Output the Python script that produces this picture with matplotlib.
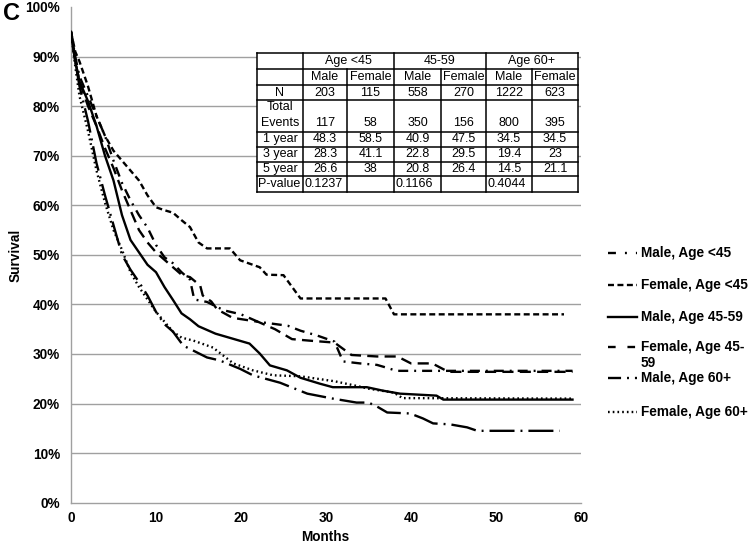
"""
Kaplan-Meier style survival curves by sex and age group, with summary table.
"""
import matplotlib
matplotlib.use("Agg")
import matplotlib.pyplot as plt
from matplotlib.lines import Line2D

plt.rcParams["font.family"] = ["Liberation Sans", "DejaVu Sans"]
plt.rcParams["lines.scale_dashes"] = False

# ── Data (survival %) ────────────────────────────────────────────────────────
m_lt45_months = [0, 0.5, 1, 2, 3, 4, 5, 6, 7, 8, 9, 10, 11, 12, 13, 14, 14.5,
                 16, 18, 20, 22, 25.5, 27, 29, 31, 32, 34, 36, 37, 38.3, 59]
m_lt45_surv = [95, 90, 86, 82, 78, 74, 69, 64.5, 61, 58, 55.5, 52, 49.5, 48.3,
               46.5, 45, 41, 40.5, 38.8, 38, 36.5, 35.7, 34.7, 33.7, 32.5, 28.5,
               28.1, 27.8, 27.3, 26.6, 26.6]

f_lt45_months = [0, 0.5, 1, 2, 3, 4, 5, 6, 7, 8, 9, 10, 11, 12, 13, 14, 15, 16,
                 18.7, 19.9, 22.2, 23, 25, 27, 37, 38, 58]
f_lt45_surv = [95, 91, 89, 84, 78, 74, 71, 69, 67, 65, 62, 59.6, 59, 58.5, 57,
               55.6, 52.5, 51.3, 51.3, 48.9, 47.5, 46, 45.9, 41.2, 41.2, 38, 38]

m_4559_months = [0, 0.5, 1, 2, 3, 4, 5, 6, 7, 8, 9, 10, 11, 12, 13, 14, 15, 17,
                 19, 21, 22.2, 23.4, 25.4, 27, 29.3, 30.8, 34.8, 36.7, 38.7, 43,
                 43.8, 59]
m_4559_surv = [95, 89, 85, 81, 76, 70, 65, 58, 53, 50.5, 48, 46.5, 43.5, 40.9,
               38.2, 37, 35.6, 34.1, 33.1, 32.1, 30.1, 27.7, 26.7, 25.2, 24,
               23.3, 23.3, 22.6, 22, 21.6, 20.8, 20.8]

f_4559_months = [0, 0.5, 1, 2, 3, 4, 5, 6, 7, 8, 9, 10, 11, 12, 13, 14, 15.2,
                 15.5, 16.5, 17.2, 19, 22, 24, 26, 28, 31, 33, 36, 38.4, 40,
                 42.5, 44.4, 59]
f_4559_surv = [95, 89, 85, 80, 76, 71.5, 67.5, 63, 59, 55, 52.5, 50.5, 49, 47.5,
               46, 45.5, 43.8, 41.8, 40.6, 39, 37.3, 36.5, 35, 33, 32.7, 32.3,
               29.8, 29.5, 29.5, 28.1, 28.1, 26.4, 26.4]

m_60_months = [0, 0.5, 1, 2, 3, 4, 5, 6, 7, 8, 9, 10, 11, 12, 13.2, 16, 17.5,
               19.9, 21.4, 24.6, 27.8, 30.8, 33.6, 35, 36, 37.2, 39.9, 41.4,
               42.6, 44.6, 46.6, 47.8, 57.5]
m_60_surv = [95, 89, 84, 77, 68.5, 62, 56, 50, 47, 44.5, 41.8, 38.5, 36, 34.5,
             31.7, 29.3, 28.7, 27, 25.7, 24.2, 22, 21, 20.2, 20.2, 19.4, 18.2,
             18, 17, 16, 15.8, 15.2, 14.5, 14.5]

f_60_months = [0, 0.5, 1, 2, 3, 4, 5, 6, 7, 8, 9, 10, 11, 12, 13, 14.4, 16.7,
               19.1, 21.4, 23.8, 27, 31, 33.5, 35, 38, 39, 59]
f_60_surv = [95, 88, 82, 75, 67, 60.5, 55, 51, 46.5, 43.5, 41, 38.5, 36.5,
             34.5, 33.3, 32.7, 31.3, 28.1, 26.7, 25.7, 25.5, 24.5, 23.6, 23,
             22.2, 21.1, 21]

labels = ["Male, Age <45", "Female, Age <45", "Male, Age 45-59",
          "Female, Age 45-\n59", "Male, Age 60+", "Female, Age 60+"]

# ── Table data ────────────────────────────────────────────────────────────────
groups = ["Age <45", "45-59", "Age 60+"]
sexes = ["Male", "Female"] * 3
n_patients = ["203", "115", "558", "270", "1222", "623"]
total_events = ["117", "58", "350", "156", "800", "395"]
surv_1yr = ["48.3", "58.5", "40.9", "47.5", "34.5", "34.5"]
surv_3yr = ["28.3", "41.1", "22.8", "29.5", "19.4", "23"]
surv_5yr = ["26.6", "38", "20.8", "26.4", "14.5", "21.1"]
p_values = ["0.1237", "", "0.1166", "", "0.4044", ""]

# line styles (dash lengths in points)
STYLES = [
    (0, (7.2, 4.3, 1.4, 4.3)),     # Male <45
    (0, (4.3, 2.5)),               # Female <45
    "-",                           # Male 45-59
    (0, (8, 4.5)),                 # Female 45-59
    (0, (18, 4.3, 1.4, 4.3)),      # Male 60+
    (0, (1.2, 2.2)),               # Female 60+
]
# legend handles are short, so shift the long patterns to show dash + dot
LEGEND_STYLES = [
    (1.5, (7.2, 6.5, 1.4, 6.5)),
    (0, (4.3, 2.5)),
    "-",
    (0, (5.5, 8.5)),
    (8.6, (18, 4.3, 1.4, 4.3)),
    (0, (1.2, 2.2)),
]

W, H = 750, 544


def fx(x):
    return x / W


def fy(y):
    return 1 - y / H


fig = plt.figure(figsize=(7.5, 5.44), dpi=100)
ax = fig.add_axes([fx(71), fy(502.7), (581 - 71) / W, (502.7 - 7) / H])

series = [
    (m_lt45_months, m_lt45_surv),
    (f_lt45_months, f_lt45_surv),
    (m_4559_months, m_4559_surv),
    (f_4559_months, f_4559_surv),
    (m_60_months, m_60_surv),
    (f_60_months, f_60_surv),
]
for (mo, sv), ls in zip(series, STYLES):
    ax.plot(mo, [v / 100 for v in sv], color="black", linewidth=1.7,
            linestyle=ls, zorder=3)

ax.set_xlim(0, 60)
ax.set_ylim(0, 1)
ax.set_xticks(range(0, 61, 10))
ax.set_yticks([i / 10 for i in range(11)])
ax.set_yticklabels([f"{i * 10}%" for i in range(11)])
ax.tick_params(length=0, labelsize=9.8)
ax.tick_params(axis="y", pad=8)
ax.tick_params(axis="x", pad=6)
for lab in ax.get_xticklabels() + ax.get_yticklabels():
    lab.set_fontweight("bold")

for v in range(1, 10):
    ax.axhline(v / 10, color="#a0a0a0", linewidth=1.0, zorder=1)
ax.spines[["top", "right"]].set_visible(False)
ax.spines[["left", "bottom"]].set_color("#a0a0a0")
ax.spines[["left", "bottom"]].set_linewidth(1.0)

fig.text(fx(325), fy(537), "Months", fontsize=9.8, fontweight="bold",
         ha="center", va="center")
fig.text(fx(16), fy(255), "Survival", fontsize=9.8, fontweight="bold",
         ha="center", va="center", rotation=90)

fig.text(fx(3), fy(13), "C", fontsize=17, fontweight="bold", va="center")

# ── Legend (drawn by hand to match the layout) ────────────────────────────────
legend_y = [253, 285, 317, 347, 378, 412]
for ls, lab, y in zip(LEGEND_STYLES, labels, legend_y):
    fig.add_artist(Line2D([fx(608), fx(637)], [fy(y), fy(y)], color="black",
                          linewidth=1.7, linestyle=ls))
    fig.text(fx(641), fy(y - 7), lab, fontsize=9.8, fontweight="bold",
             va="top", ha="left", linespacing=1.15)

# ── Summary table ─────────────────────────────────────────────────────────────
col_x = [257, 303, 347, 394, 441, 486, 532, 578]
row_y = [53, 69, 85, 100, 131.5, 147, 161.5, 176, 192]
TFS = 9

fig.add_artist(plt.Rectangle((fx(col_x[0]), fy(row_y[-1])),
                             (col_x[-1] - col_x[0]) / W,
                             (row_y[-1] - row_y[0]) / H,
                             facecolor="white", edgecolor="none", zorder=4))


def hline(y, x0, x1):
    fig.add_artist(Line2D([fx(x0), fx(x1)], [fy(y), fy(y)], color="black",
                          linewidth=1.1, zorder=5))


def vline(x, y0, y1):
    fig.add_artist(Line2D([fx(x), fx(x)], [fy(y0), fy(y1)], color="black",
                          linewidth=1.1, zorder=5))


for y in row_y:
    hline(y, col_x[0], col_x[-1])
for i, x in enumerate(col_x):
    top = row_y[0] if i in (0, 1, 3, 5, 7) else row_y[1]
    vline(x, top, row_y[-1])


def cell_text(x, y, s, ha="center", va="center"):
    fig.text(fx(x), fy(y), s, fontsize=TFS, ha=ha, va=va, zorder=6)


for g, grp in enumerate(groups):
    xc = (col_x[1 + 2 * g] + col_x[3 + 2 * g]) / 2
    cell_text(xc, (row_y[0] + row_y[1]) / 2, grp)

for j in range(6):
    xc = (col_x[j + 1] + col_x[j + 2]) / 2
    cell_text(xc, (row_y[1] + row_y[2]) / 2, sexes[j])
    cell_text(xc, (row_y[2] + row_y[3]) / 2, n_patients[j])
    cell_text(xc, 123.5, total_events[j])
    cell_text(xc, (row_y[4] + row_y[5]) / 2, surv_1yr[j])
    cell_text(xc, (row_y[5] + row_y[6]) / 2, surv_3yr[j])
    cell_text(xc, (row_y[6] + row_y[7]) / 2, surv_5yr[j])
    if p_values[j]:
        cell_text(col_x[j + 1] + 1.5, (row_y[7] + row_y[8]) / 2, p_values[j],
                  ha="left")

xc0 = (col_x[0] + col_x[1]) / 2
cell_text(xc0, (row_y[2] + row_y[3]) / 2, "N")
cell_text(xc0, 107, "Total")
cell_text(xc0, 123.5, "Events")
cell_text(xc0, (row_y[4] + row_y[5]) / 2, "1 year")
cell_text(xc0, (row_y[5] + row_y[6]) / 2, "3 year")
cell_text(xc0, (row_y[6] + row_y[7]) / 2, "5 year")
cell_text(col_x[0] + 1, (row_y[7] + row_y[8]) / 2, "P-value", ha="left")

fig.savefig("out.png", dpi=100)
